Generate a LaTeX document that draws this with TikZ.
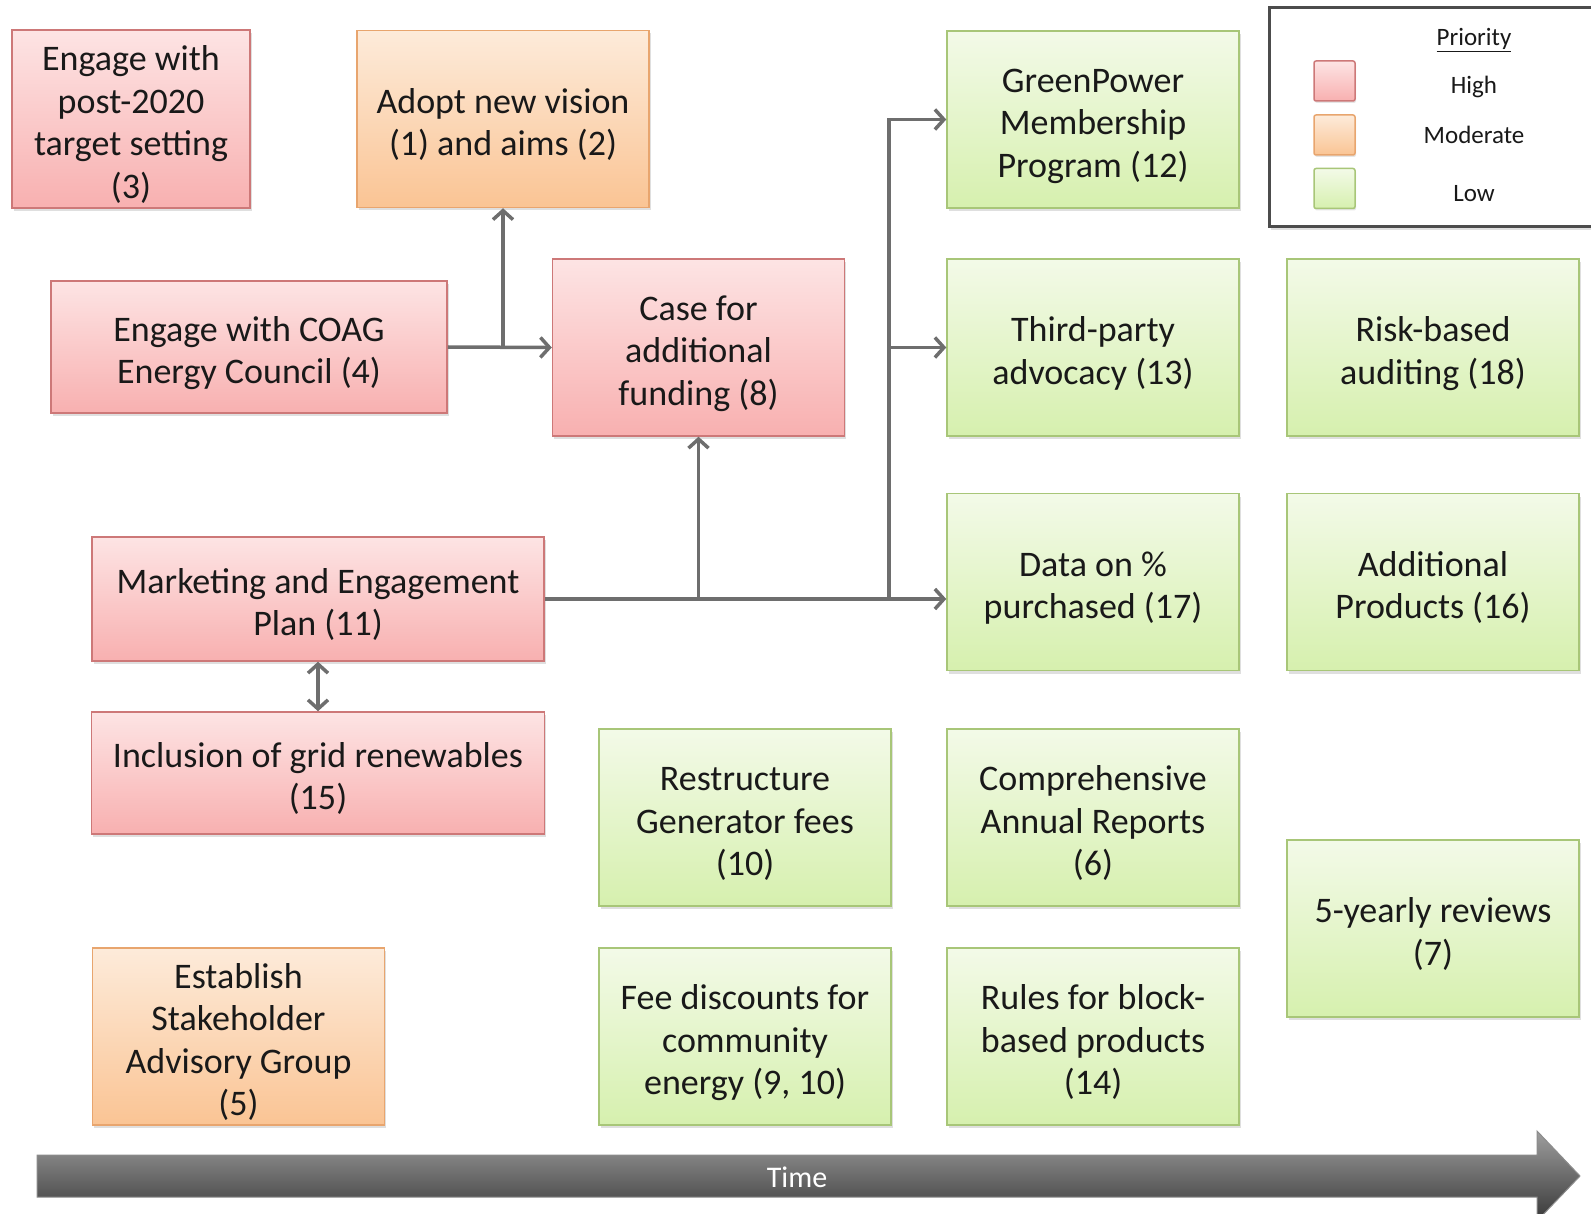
\documentclass[tikz,border=0pt]{standalone}
\usepackage{fontspec}
\setmainfont{Carlito}
\usetikzlibrary{arrows.meta,shadows,calc}
\definecolor{hiT}{RGB}{253,228,228}
\definecolor{hiB}{RGB}{248,176,176}
\definecolor{hiD}{RGB}{205,120,120}
\definecolor{moT}{RGB}{253,235,218}
\definecolor{moB}{RGB}{250,196,148}
\definecolor{moD}{RGB}{232,165,110}
\definecolor{loT}{RGB}{243,250,232}
\definecolor{loB}{RGB}{214,240,174}
\definecolor{loD}{RGB}{168,198,120}
\definecolor{conn}{RGB}{110,110,110}
\definecolor{txt}{RGB}{25,25,25}
\newcommand\bxt[1]{\raisebox{-7pt}[\height][\depth]{\begin{tabular}{@{}c@{}}#1\end{tabular}}}
\tikzset{
  box/.style={rectangle, line width=1.5pt, text=txt,
    font=\fontsize{36}{42.5}\selectfont, inner sep=0pt,
    drop shadow={opacity=0.25, shadow xshift=1.5pt, shadow yshift=-3pt}},
  hi/.style={box, top color=hiT, bottom color=hiB, draw=hiD},
  mo/.style={box, top color=moT, bottom color=moB, draw=moD},
  lo/.style={box, top color=loT, bottom color=loB, draw=loD},
  std/.style={minimum width=292pt, minimum height=177pt},
  link/.style={draw=conn, line width=3.5pt, -{Straight Barb[length=9pt,width=20pt]}},
  link2/.style={draw=conn, line width=3.5pt, {Straight Barb[length=9pt,width=20pt]}-{Straight Barb[length=9pt,width=20pt]}},
  legsq/.style={rectangle, rounded corners=2pt, line width=1.5pt, minimum width=41pt, minimum height=40pt,
    drop shadow={opacity=0.2, shadow xshift=1pt, shadow yshift=-2pt}},
  legtxt/.style={text=txt, font=\fontsize{25}{30}\selectfont}
}
\begin{document}
\begin{tikzpicture}[x=1pt,y=-1pt]
\useasboundingbox (0,0) rectangle (1591,1214);
\clip (0,0) rectangle (1591,1214);
% boxes
\node[hi, minimum width=238pt, minimum height=178pt] (post) at (131,119) {\bxt{Engage with\\post-2020\\target setting\\(3)}};
\node[mo, std] (adopt) at (503,119) {\bxt{Adopt new vision\\(1) and aims (2)}};
\node[hi, minimum width=396pt, minimum height=132pt] (coag) at (249,347) {\bxt{Engage with COAG\\Energy Council (4)}};
\node[hi, std] (case) at (698.5,347.5) {\bxt{Case for\\additional\\funding (8)}};
\node[hi, minimum width=452pt, minimum height=124pt] (mkt) at (318,599) {\bxt{Marketing and Engagement\\Plan (11)}};
\node[hi, minimum width=453pt, minimum height=122pt] (incl) at (318,773) {\bxt{Inclusion of grid renewables\\(15)}};
\node[mo, std] (sag) at (238.5,1036.5) {\bxt{Establish\\Stakeholder\\Advisory Group\\(5)}};
\node[lo, std] (restr) at (745,817.5) {\bxt{Restructure\\Generator fees\\(10)}};
\node[lo, std] (fee) at (745,1036.5) {\bxt{Fee discounts for\\community\\energy (9, 10)}};
\node[lo, std] (green) at (1093,119.5) {\bxt{GreenPower\\Membership\\Program (12)}};
\node[lo, std] (third) at (1093,347.5) {\bxt{Third-party\\advocacy (13)}};
\node[lo, std] (data) at (1093,582) {\bxt{Data on \%\\purchased (17)}};
\node[lo, std] (comp) at (1093,817.5) {\bxt{Comprehensive\\Annual Reports\\(6)}};
\node[lo, std] (rules) at (1093,1036.5) {\bxt{Rules for block-\\based products\\(14)}};
\node[lo, std] (risk) at (1433,347.5) {\bxt{Risk-based\\auditing (18)}};
\node[lo, std] (addp) at (1433,582) {\bxt{Additional\\Products (16)}};
\node[lo, std] (five) at (1433,928.5) {\bxt{5-yearly reviews\\(7)}};
% legend
\node[draw=black!70, line width=3pt, fill=white, minimum width=340pt, minimum height=219pt,
  drop shadow={opacity=0.25, shadow xshift=1.5pt, shadow yshift=-3pt}] (legend) at (1439,117.5) {};
\node[legsq, top color=hiT, bottom color=hiB, draw=hiD] (sqh) at (1334.5,81) {};
\node[legsq, top color=moT, bottom color=moB, draw=moD] (sqm) at (1334.5,135) {};
\node[legsq, top color=loT, bottom color=loB, draw=loD] (sql) at (1334.5,188.5) {};
\node[legtxt] (prio) at (1474,40) {\underline{Priority}};
\node[legtxt] (lh) at (1474,87) {High};
\node[legtxt] (lm) at (1474,135) {Moderate};
\node[legtxt] (ll) at (1474,194) {Low};
% connectors
\coordinate (b1) at (adopt.south |- coag.east);
\draw[link] (coag.east) -- (case.west);
\draw[link] (b1) -- (adopt.south);
\coordinate (b3) at (case.south |- mkt.east);
\coordinate (b2) at (889,599);
\draw[link] (mkt.east) -- (data.west |- mkt.east);
\draw[link] (b3) -- (case.south);
\draw[link] (b2) |- (green.west);
\draw[link] (b2 |- third.west) -- (third.west);
\draw[link2] (mkt.south) -- (incl.north);
% time arrow
\shade[top color=black!38, bottom color=black!78, draw=black!45, line width=1pt]
  (37,1155) -- (1537,1155) -- (1537,1131) -- (1580,1176) -- (1537,1221) -- (1537,1197) -- (37,1197) -- cycle;
\node[text=white, font=\fontsize{30}{36}\selectfont] (time) at (797,1177) {Time};
\end{tikzpicture}
\end{document}
